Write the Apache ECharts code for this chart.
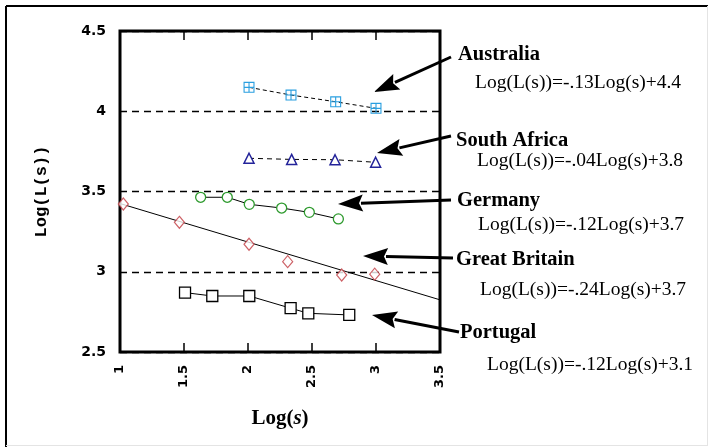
<!DOCTYPE html>
<html><head><meta charset="utf-8">
<script src="https://cdn.jsdelivr.net/npm/echarts@6/dist/echarts.min.js"></script>
<style>html,body{margin:0;padding:0;background:#fff}#c{width:709px;height:447px}</style>
</head><body><div id="c"></div>
<script>
const xTicks = [1, 1.5, 2, 2.5, 3, 3.5];
const yTicks = [2.5, 3, 3.5, 4, 4.5];

const australiaX = [2.008, 2.336, 2.685, 3.0];
const australiaY = [4.149, 4.101, 4.059, 4.018];
const southAfricaX = [2.008, 2.341, 2.68, 2.997];
const southAfricaY = [3.707, 3.70, 3.698, 3.682];
const germanyX = [1.63, 1.838, 2.01, 2.263, 2.479, 2.706];
const germanyY = [3.464, 3.464, 3.42, 3.397, 3.37, 3.329];
const britainX = [1.026, 1.464, 2.008, 2.31, 2.732, 2.99];
const britainY = [3.422, 3.308, 3.171, 3.063, 2.98, 2.985];
const britainFitX = [1, 3.5];
const britainFitY = [3.425, 2.825];
const portugalX = [1.508, 1.721, 2.01, 2.333, 2.471, 2.791];
const portugalY = [2.87, 2.849, 2.849, 2.773, 2.741, 2.731];

const countries = ['Australia', 'South Africa', 'Germany', 'Great Britain', 'Portugal'];
const equations = [
  'Log(L(s))=-.13Log(s)+4.4',
  'Log(L(s))=-.04Log(s)+3.8',
  'Log(L(s))=-.12Log(s)+3.7',
  'Log(L(s))=-.24Log(s)+3.7',
  'Log(L(s))=-.12Log(s)+3.1'
];

function pairs(xs, ys) { return xs.map((x, i) => [x, ys[i]]); }

const chart = echarts.init(document.getElementById('c'), null, {renderer: 'canvas'});

// annotation layout (pixels)
const labelPos = [[458, 55], [456, 141], [457, 201], [456, 260], [460, 333]];
const eqPos = [[475, 83], [477, 161], [478, 225], [480, 290], [487, 365]];
const arrows = [
  [[451, 57], [374, 92]],
  [[451, 136], [377, 153]],
  [[451, 200], [338, 204]],
  [[453, 258], [363, 256]],
  [[459, 332], [372, 315]]
];

function arrowEls(a) {
  const [s, t] = a;
  const dx = t[0] - s[0], dy = t[1] - s[1];
  const len = Math.sqrt(dx * dx + dy * dy);
  const ux = dx / len, uy = dy / len;
  const L = 25, W = 8.5;
  const bx = t[0] - ux * L, by = t[1] - uy * L;
  const px = -uy, py = ux;
  return [
    {type: 'line', shape: {x1: s[0], y1: s[1], x2: bx + ux * 2, y2: by + uy * 2}, style: {stroke: '#000', lineWidth: 3}, z: 10},
    {type: 'polygon', shape: {points: [[t[0], t[1]], [bx + px * W, by + py * W], [bx + ux * 4, by + uy * 4], [bx - px * W, by - py * W]]}, style: {fill: '#000'}, z: 10}
  ];
}

const graphics = [
  {type: 'line', shape: {x1: 6, y1: 6, x2: 708, y2: 6}, style: {stroke: '#000', lineWidth: 2}},
  {type: 'line', shape: {x1: 6, y1: 6, x2: 6, y2: 447}, style: {stroke: '#000', lineWidth: 2}},
  {type: 'line', shape: {x1: 707.5, y1: 6, x2: 707.5, y2: 446}, style: {stroke: '#e4e4e4', lineWidth: 1}},
  {type: 'line', shape: {x1: 6, y1: 445.5, x2: 708, y2: 445.5}, style: {stroke: '#e4e4e4', lineWidth: 1}}
];
countries.forEach((c, i) => {
  graphics.push({type: 'text', x: labelPos[i][0], y: labelPos[i][1], z: 10,
    style: {text: c, font: 'bold 20.5px "Liberation Serif"', fill: '#000', verticalAlign: 'middle', align: 'left'}});
  graphics.push({type: 'text', x: eqPos[i][0], y: eqPos[i][1], z: 10,
    style: {text: equations[i], font: '19.5px "Liberation Serif"', fill: '#000', verticalAlign: 'middle', align: 'left'}});
});
arrows.forEach(a => arrowEls(a).forEach(e => graphics.push(e)));

const xMin = xTicks[0], xMax = xTicks[xTicks.length - 1], xInt = xTicks[1] - xTicks[0];
const yMin = yTicks[0], yMax = yTicks[yTicks.length - 1], yInt = yTicks[1] - yTicks[0];

const ausSymbol = 'path://M0,0H10V10H0Z M1,1V4.5H4.5V1Z M5.5,1V4.5H9V1Z M1,5.5V9H4.5V5.5Z M5.5,5.5V9H9V5.5Z';

const option = {
  backgroundColor: '#fff',
  animation: false,
  grid: {left: 120, top: 31, width: 320, height: 321, show: true, borderColor: '#000', borderWidth: 3, backgroundColor: 'transparent'},
  xAxis: [{
    type: 'value', min: xMin, max: xMax, interval: xInt, position: 'bottom',
    axisLine: {show: false},
    axisTick: {show: true, inside: true, length: 9, lineStyle: {color: '#000', width: 1.5}},
    axisLabel: {rotate: 90, margin: 13, color: '#000', fontFamily: 'DejaVu Sans', fontWeight: 'bold', fontSize: 13},
    splitLine: {show: false},
    name: '{a|Log(}{b|s}{a|)}', nameLocation: 'middle', nameGap: 56,
    nameTextStyle: {rich: {
      a: {fontFamily: 'Liberation Serif', fontWeight: 'bold', fontSize: 21, color: '#000'},
      b: {fontFamily: 'Liberation Serif', fontWeight: 'bold', fontStyle: 'italic', fontSize: 21, color: '#000'}
    }}
  }, {
    type: 'value', min: xMin, max: xMax, interval: xInt, position: 'top',
    axisLine: {show: false},
    axisTick: {show: true, inside: true, length: 9, lineStyle: {color: '#000', width: 1.5}},
    axisLabel: {show: false},
    splitLine: {show: false}
  }],
  yAxis: {
    type: 'value', min: yMin, max: yMax, interval: yInt,
    axisLine: {show: false}, axisTick: {show: false},
    axisLabel: {margin: 14, color: '#000', fontFamily: 'DejaVu Sans', fontWeight: 'bold', fontSize: 14},
    splitLine: {show: true, lineStyle: {color: '#000', width: 1.3, type: [7, 5]}},
    name: 'Log(L(s))', nameLocation: 'middle', nameGap: 70,
    nameTextStyle: {fontFamily: 'Liberation Mono', fontWeight: 'bold', fontSize: 17, color: '#000'}
  },
  series: [
    {name: 'Australia', type: 'line', data: pairs(australiaX, australiaY), symbol: ausSymbol, symbolSize: 11,
      itemStyle: {color: '#2a9fe0'}, lineStyle: {color: '#000', width: 1, type: [4, 3]}, z: 3},
    {name: 'South Africa', type: 'line', data: pairs(southAfricaX, southAfricaY), symbol: 'triangle', symbolSize: 10,
      itemStyle: {color: '#fff', borderColor: '#23239a', borderWidth: 1.5}, lineStyle: {color: '#000', width: 1, type: [5, 4]}, z: 3},
    {name: 'Germany', type: 'line', data: pairs(germanyX, germanyY), symbol: 'circle', symbolSize: 10,
      itemStyle: {color: '#fff', borderColor: '#2e9a2e', borderWidth: 1.3}, lineStyle: {color: '#000', width: 1}, z: 3},
    {name: 'Great Britain fit', type: 'line', data: pairs(britainFitX, britainFitY), symbol: 'none',
      lineStyle: {color: '#000', width: 1}, z: 2},
    {name: 'Great Britain', type: 'scatter', data: pairs(britainX, britainY), symbol: 'diamond', symbolSize: [10, 12],
      itemStyle: {color: '#fff', borderColor: '#c03a40', borderWidth: 1.2}, z: 3},
    {name: 'Portugal', type: 'line', data: pairs(portugalX, portugalY), symbol: 'rect', symbolSize: 11,
      itemStyle: {color: '#fff', borderColor: '#000', borderWidth: 1.3}, lineStyle: {color: '#000', width: 1}, z: 3}
  ],
  graphic: graphics
};
chart.setOption(option);
</script>
</body></html>
